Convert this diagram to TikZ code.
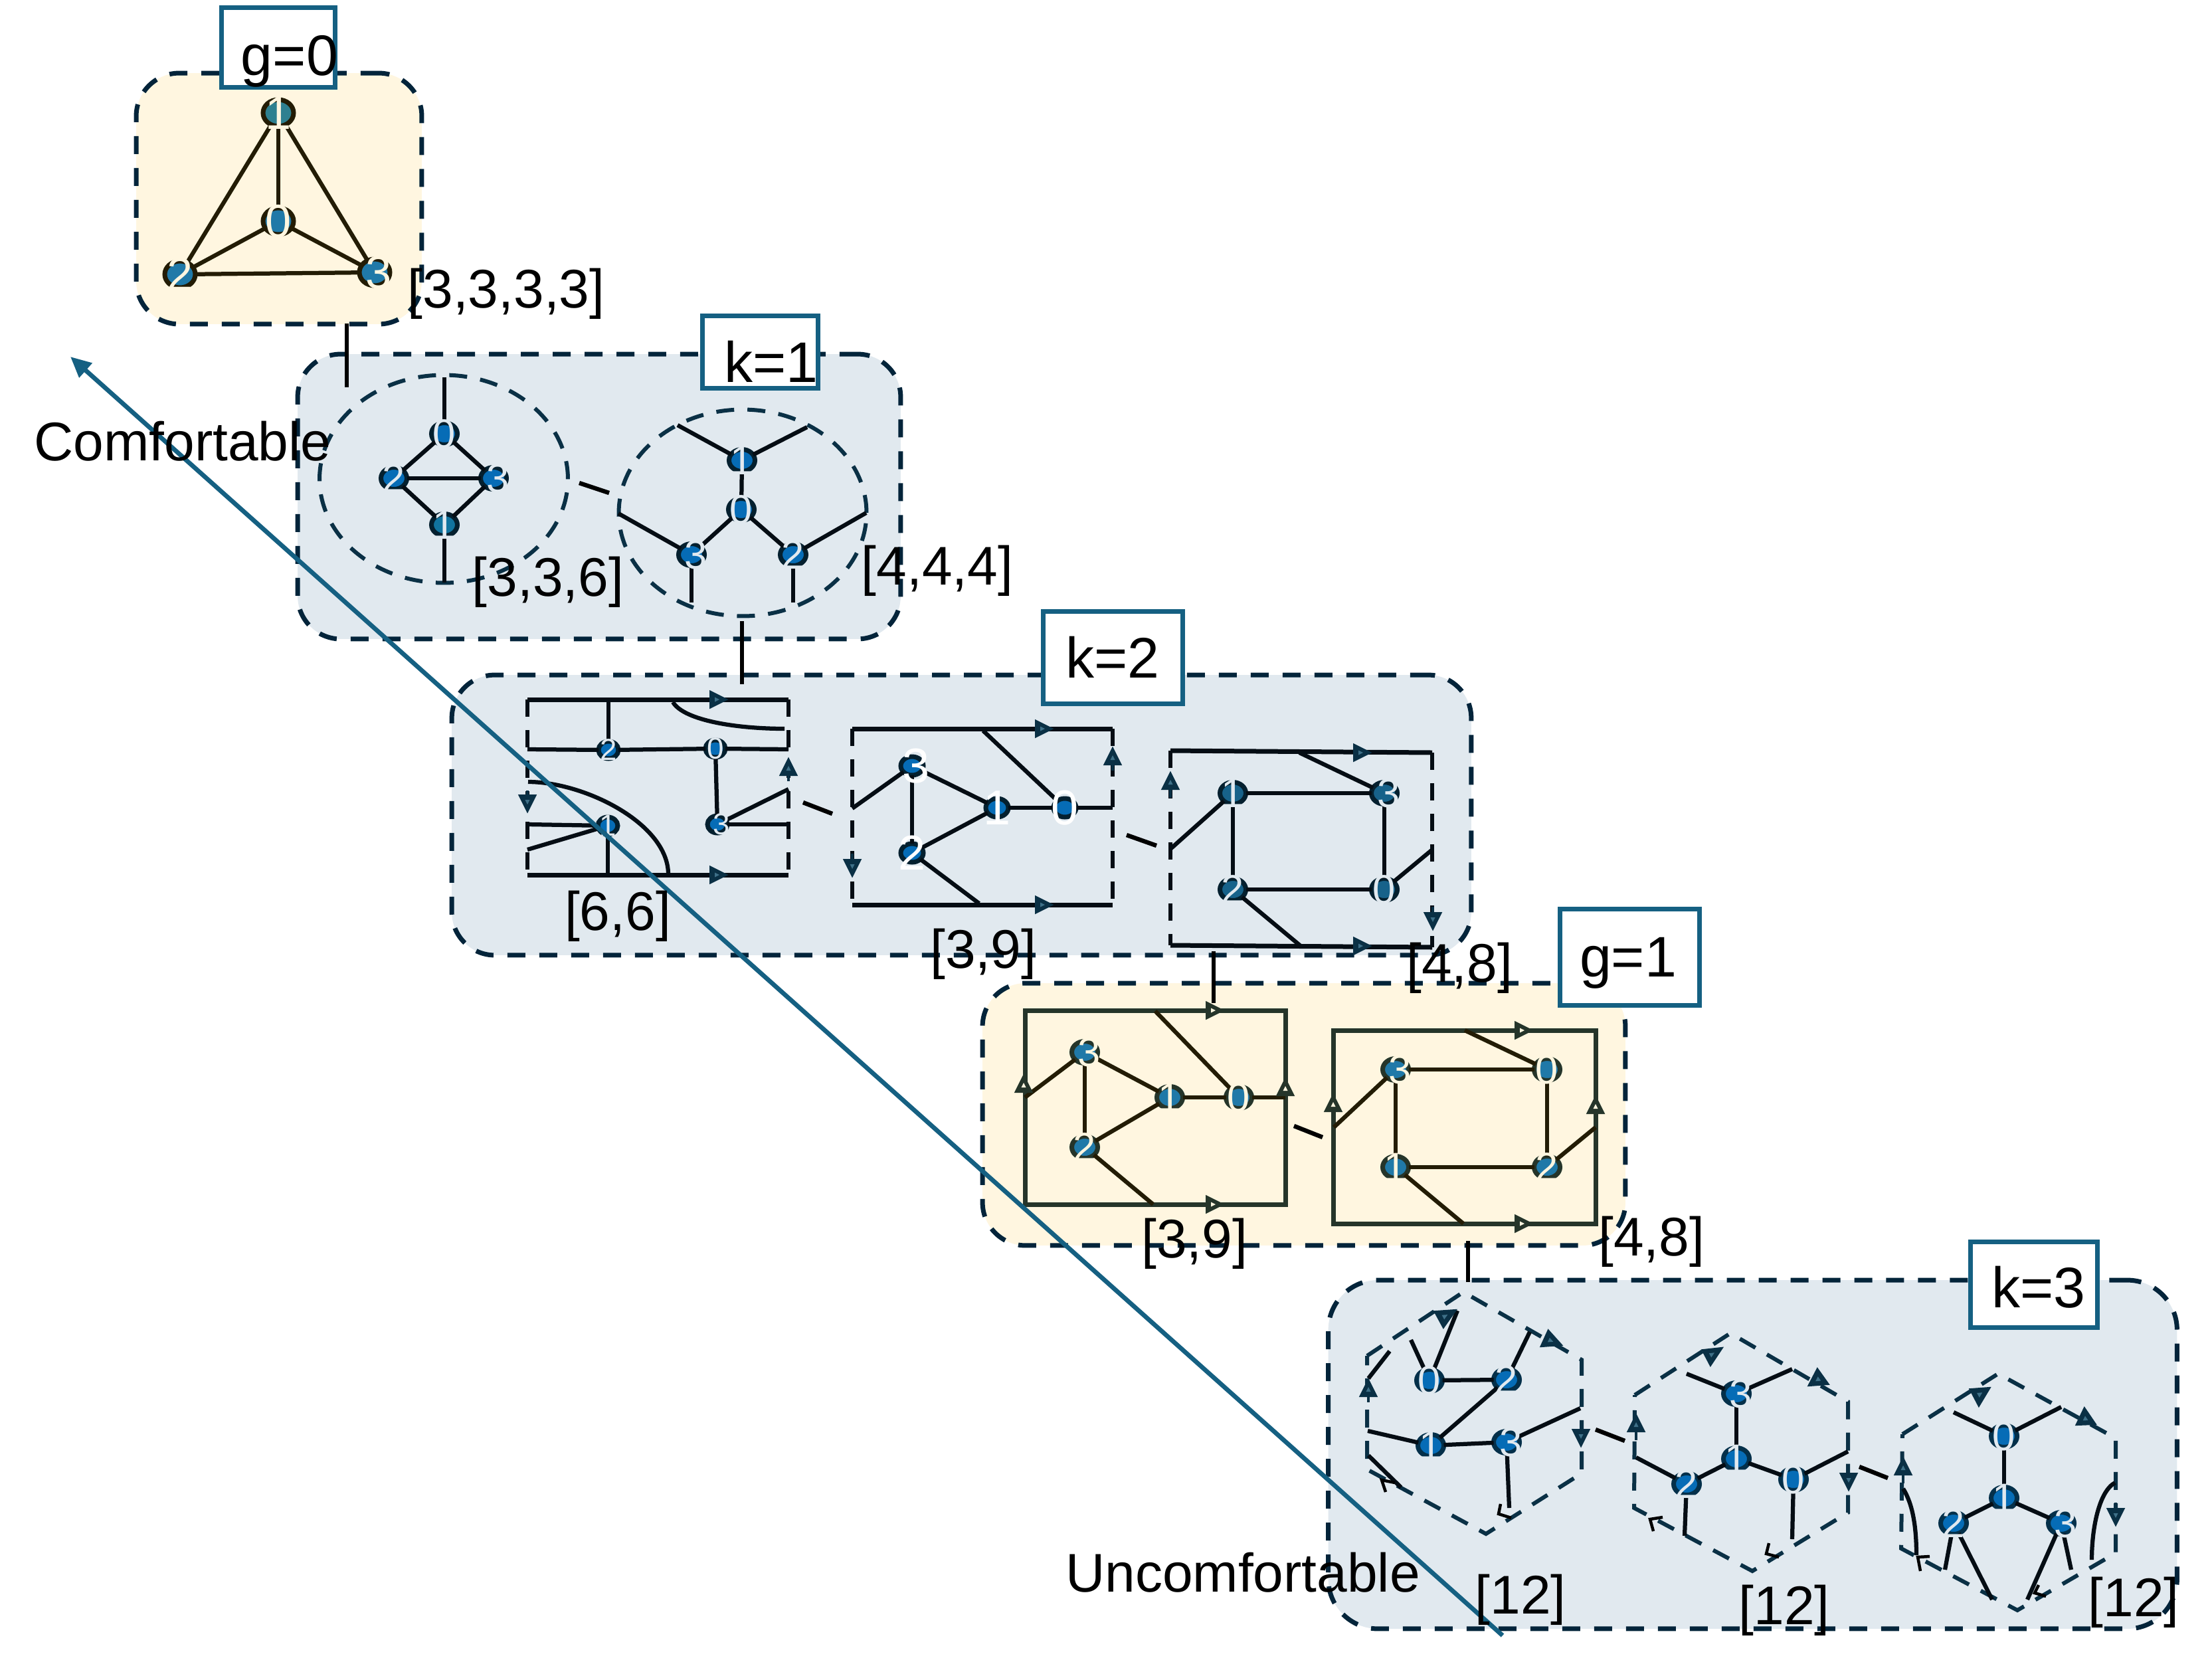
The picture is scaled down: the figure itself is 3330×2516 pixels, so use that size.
\documentclass[tikz,border=0pt]{standalone}
\usepackage{fontspec}
\setmainfont{Liberation Sans}
\usetikzlibrary{shapes.geometric,arrows.meta}
\definecolor{panelblue}{HTML}{E1E9EF}
\definecolor{panelcream}{HTML}{FFF6E0}
\definecolor{dashcol}{HTML}{03243A}
\definecolor{boxcol}{HTML}{156082}
\definecolor{hexcol}{HTML}{0A3045}
\definecolor{framecol}{HTML}{25352A}
\definecolor{tipcore}{HTML}{3E7088}
\colorlet{edgec}{black}
\colorlet{ringc}{black}
\colorlet{fillc}{blue}
\colorlet{framec}{black}
\colorlet{digc}{white}
\newcommand\fontpx[1]{\fontsize{#1}{#1}\selectfont}
\newcounter{stc}
\def\dlist{}
\newcommand\gn[5][]{\node[gnode,#1] (#2) at (#3,#4) {};%
  \expandafter\def\expandafter\dlist\expandafter{\dlist\node[digit,#1,fill=none,xshift={ifthenelse(#5==3,3.5,0)}] (#2d) at (#2) {#5};}}
\newcommand\edgeline[2]{\draw[edgest] (#1) -- (#2);}
\newcommand\stubline[3]{\stepcounter{stc}\coordinate (s\thestc) at (#2,#3);\draw[edgest] (#1) -- (s\thestc);}
\newcommand\linkline[4]{\stepcounter{stc}\coordinate (la\thestc) at (#1,#2);\coordinate (lb\thestc) at (#3,#4);\draw[linkst] (la\thestc) -- (lb\thestc);}
\newcommand\tri[4]{\begin{scope}[shift={(#1,#2)},rotate=#3]
  \draw[tipst] (-10,0) -- ({-10-#4},0);
  \draw[tipst,fill=hexcol] (12,0) -- (-10,-11) -- (-10,11) -- cycle;
  \fill[tipcore] (3,0) -- (-4,-3.5) -- (-4,3.5) -- cycle;
\end{scope}}
\newcommand\tripts[6]{\draw[tipst,fill=hexcol] (#1,#2) -- (#3,#4) -- (#5,#6) -- cycle;
  \pgfmathsetmacro\cxx{(#1+#3+#5)/3}\pgfmathsetmacro\cyy{(#2+#4+#6)/3}
  \begin{scope}[shift={(\cxx,\cyy)},scale=.3,shift={(-\cxx,-\cyy)}]\fill[tipcore] (#1,#2) -- (#3,#4) -- (#5,#6) -- cycle;\end{scope}}
\newcommand\chev[6]{\draw[chevst] (#1,#2) -- (#3,#4) -- (#5,#6);}
\tikzset{
  panelbase/.style={rectangle,draw=dashcol,line width=.14cm,dash pattern=on .54cm off .42cm,inner sep=0,outer sep=0,rounded corners=1.3cm},
  pblue/.style={panelbase,fill=panelblue},
  pcream/.style={panelbase,fill=panelcream},
  tagbox/.style={rectangle,draw=boxcol,fill=white,line width=.14cm,inner sep=0,outer sep=0},
  lab/.style={font=\fontpx{46.7},text=black,inner sep=0,anchor=base},
  taglab/.style={font=\fontpx{49},text=black,inner sep=0,anchor=base},
  gnode/.style={ellipse,draw=ringc,fill=fillc,line width=.14cm,inner sep=0,outer sep=0,minimum width=.78cm,minimum height=.66cm},
  digit/.style={font=\fontpx{35},text=digc,inner sep=0,outer sep=0},
  n0/.style={minimum width=.92cm,minimum height=.8cm,font=\fontpx{40}},
  n6/.style={minimum width=.6cm,minimum height=.52cm,font=\fontpx{26}},
  n9/.style={minimum width=.68cm,minimum height=.56cm,font=\fontpx{42},text=white},
  tl/.style={fill=tealc},
  edgest/.style={draw=edgec,line width=.125cm,line cap=butt},
  linkst/.style={draw=black,line width=.13cm},
  framesolid/.style={draw=framec,line width=.14cm},
  framedash/.style={draw=framec,line width=.13cm,dash pattern=on .52cm off .4cm},
  hexst/.style={draw=hexcol,line width=.12cm,dash pattern=on .54cm off .4cm,line join=miter},
  bigring/.style={ellipse,draw=hexcol,line width=.12cm,dash pattern=on .54cm off .4cm,inner sep=0,outer sep=0},
  tipst/.style={draw=hexcol,line width=.08cm,line join=miter},
  chevst/.style={draw=black,line width=.09cm},
  diag/.style={draw=boxcol,line width=.135cm,-{Triangle[length=.62cm,width=.56cm]}}
}
\begin{document}
\begin{tikzpicture}[x=0.02cm,y=-0.02cm]
\useasboundingbox (0,0) rectangle (3330,2516);
\fill[white] (0,0) rectangle (3330,2516);
% panels
\node[pcream,minimum width=8.6cm,minimum height=7.56cm] (pg0) at (420,299) {};
\node[pblue,minimum width=18.16cm,minimum height=8.58cm] (pk1) at (902,747.5) {};
\node[pblue,minimum width=30.7cm,minimum height=8.44cm] (pk2) at (1447.5,1227) {};
\node[pcream,minimum width=19.36cm,minimum height=7.9cm] (pg1) at (1963,1677.5) {};
\node[pblue,minimum width=25.56cm,minimum height=10.5cm,rounded corners=1.5cm] (pk3) at (2638.5,2189.5) {};
% links between panels
\linkline{522}{487}{522}{583}
\linkline{1117}{935}{1117}{1030}
\linkline{1827}{1432}{1827}{1510}
\linkline{2210}{1868}{2210}{1930}
\linkline{872}{727}{917}{742}
\linkline{1209}{1208}{1253}{1225}
\linkline{1696}{1257}{1741}{1273}
\linkline{1948}{1695}{1991}{1712}
\linkline{2402}{2152}{2446}{2169}
\linkline{2799}{2208}{2842}{2225}
% g=0
\begin{scope}
\def\dlist{}
\definecolor{edgec}{HTML}{231C05}\definecolor{ringc}{HTML}{231C05}\definecolor{fillc}{HTML}{2079A8}
\definecolor{tealc}{HTML}{2E8090}\colorlet{digc}{panelcream}
\gn[n0,tl]{a1}{419}{170}{1}
\gn[n0]{a0}{419}{333}{0}
\gn[n0]{a2}{271}{413}{2}
\gn[n0]{a3}{564}{410}{3}
\edgeline{a1}{a0}\edgeline{a1}{a2}\edgeline{a1}{a3}\edgeline{a0}{a2}\edgeline{a0}{a3}\edgeline{a2}{a3}
\dlist
\end{scope}
% k=1
\begin{scope}
\def\dlist{}
\definecolor{edgec}{HTML}{050D14}\definecolor{ringc}{HTML}{04202F}\definecolor{fillc}{HTML}{066CB6}
\definecolor{tealc}{HTML}{11749F}\colorlet{digc}{panelblue}
\node[bigring,minimum width=7.48cm,minimum height=6.26cm] (r1) at (668,721) {};
\node[bigring,minimum width=7.46cm,minimum height=6.22cm] (r2) at (1118,772) {};
\gn{b0}{669}{653}{0}
\gn{b2}{593}{720}{2}
\gn{b3}{743}{720}{3}
\gn[tl]{b1}{669}{790}{1}
\edgeline{b0}{b2}\edgeline{b0}{b3}\edgeline{b2}{b3}\edgeline{b1}{b2}\edgeline{b1}{b3}
\stubline{b0}{669}{568}\stubline{b1}{669}{877}
\gn{c1}{1117}{693}{1}
\gn{c0}{1116}{767}{0}
\gn{c3}{1041}{835}{3}
\gn{c2}{1194}{835}{2}
\edgeline{c1}{c0}\edgeline{c0}{c3}\edgeline{c0}{c2}
\stubline{c1}{1020}{640}\stubline{c1}{1215}{643}\stubline{c3}{931}{773}\stubline{c2}{1304}{772}\stubline{c3}{1041}{907}\stubline{c2}{1194}{907}
\dlist
\end{scope}
% k=2
\begin{scope}
\def\dlist{}
\definecolor{edgec}{HTML}{050D14}\definecolor{ringc}{HTML}{04202F}\definecolor{fillc}{HTML}{066CB6}\definecolor{framec}{HTML}{050D14}
\colorlet{digc}{panelblue}
% [6,6]
\coordinate (f1a) at (794,1053);\coordinate (f1b) at (1187,1053);\coordinate (f1c) at (1187,1317);\coordinate (f1d) at (794,1317);
\draw[framesolid] (f1a) -- (f1b);\draw[framesolid] (f1d) -- (f1c);
\draw[framedash] (f1a) -- (f1d);\draw[framedash] (f1b) -- (f1c);
\gn[n6]{d2}{916}{1129}{2}
\gn[n6]{d0}{1077}{1127}{0}
\gn[n6]{d3}{1080}{1241}{3}
\gn[n6]{d1}{915}{1243}{1}
\edgeline{d2}{d0}\edgeline{d0}{d3}
\stubline{d2}{794}{1128}\stubline{d0}{1187}{1128}\stubline{d2}{916}{1053}
\stubline{d3}{1187}{1188}\stubline{d3}{1186}{1241}
\stubline{d1}{794}{1241}\stubline{d1}{794}{1279}\stubline{d1}{915}{1317}
\coordinate (e1a) at (1013,1057);\coordinate (e1b) at (1181,1097);\coordinate (e2a) at (795,1177);\coordinate (e2b) at (1006,1316);
\draw[edgest] (e1a) .. controls (1030,1085) and (1110,1097) .. (e1b);
\draw[edgest] (e2a) .. controls (880,1177) and (1006,1240) .. (e2b);
\tri{1080}{1053}{0}{0}\tri{1080}{1317}{0}{0}\tri{794}{1208}{-90}{8}\tri{1187}{1156}{90}{10}
% [3,9]
\coordinate (f2a) at (1283,1097);\coordinate (f2b) at (1675,1097);\coordinate (f2c) at (1675,1362);\coordinate (f2d) at (1283,1362);
\draw[framesolid] (f2a) -- (f2b);\draw[framesolid] (f2d) -- (f2c);
\draw[framedash] (f2a) -- (f2d);\draw[framedash] (f2b) -- (f2c);
\gn[n9]{e3}{1373}{1153}{3}
\gn[n9]{e1}{1501}{1216}{1}
\gn[n9]{e0}{1603}{1216}{0}
\gn[n9]{e2}{1373}{1284}{2}
\edgeline{e3}{e1}\edgeline{e3}{e2}\edgeline{e1}{e2}\edgeline{e1}{e0}
\stubline{e3}{1283}{1217}\stubline{e0}{1675}{1216}\stubline{e0}{1480}{1100}\stubline{e2}{1474}{1360}
\tri{1570}{1097}{0}{0}\tri{1570}{1362}{0}{0}\tri{1283}{1305}{-90}{10}\tri{1675}{1140}{90}{10}
% [4,8]
\coordinate (f3a) at (1762,1130);\coordinate (f3b) at (2156,1133);\coordinate (f3c) at (2156,1426);\coordinate (f3d) at (1762,1423);
\draw[framesolid] (f3a) -- (f3b);\draw[framesolid] (f3d) -- (f3c);
\draw[framedash] (f3a) -- (f3d);\draw[framedash] (f3b) -- (f3c);
\definecolor{fillc}{HTML}{17628A}
\gn{g1}{1856}{1194}{1}
\gn{g3}{2084}{1194}{3}
\gn{g2}{1856}{1339}{2}
\gn{g0}{2084}{1339}{0}
\edgeline{g1}{g3}\edgeline{g1}{g2}\edgeline{g3}{g0}\edgeline{g2}{g0}
\stubline{g3}{1956}{1133}\stubline{g2}{1958}{1424}\stubline{g1}{1762}{1278}\stubline{g0}{2155}{1280}
\tri{2049}{1133}{0}{0}\tri{2049}{1424}{0}{0}\tri{1762}{1177}{90}{14}\tri{2157}{1385}{-90}{10}
\dlist
\end{scope}
% g=1
\begin{scope}
\def\dlist{}
\definecolor{edgec}{HTML}{231C05}\definecolor{ringc}{HTML}{25352A}\definecolor{fillc}{HTML}{2079A8}\definecolor{framec}{HTML}{25352A}
\colorlet{digc}{panelcream}
\coordinate (h1a) at (1543,1521);\coordinate (h1c) at (1935,1813);
\draw[framesolid] (h1a) rectangle (h1c);
\gn{h3}{1633}{1584}{3}
\gn{h1}{1761}{1652}{1}
\gn{h0}{1865}{1652}{0}
\gn{h2}{1633}{1727}{2}
\edgeline{h3}{h1}\edgeline{h3}{h2}\edgeline{h1}{h2}\edgeline{h1}{h0}
\stubline{h3}{1543}{1652}\stubline{h0}{1935}{1652}\stubline{h0}{1739}{1522}\stubline{h2}{1736}{1813}
\coordinate (i1a) at (2007,1551);\coordinate (i1c) at (2402,1842);
\draw[framesolid] (i1a) rectangle (i1c);
\gn{i3}{2101}{1610}{3}
\gn{i0}{2329}{1610}{0}
\gn{i1}{2101}{1757}{1}
\gn{i2}{2329}{1757}{2}
\edgeline{i3}{i0}\edgeline{i3}{i1}\edgeline{i0}{i2}\edgeline{i1}{i2}
\stubline{i0}{2205}{1551}\stubline{i1}{2203}{1842}\stubline{i3}{2008}{1697}\stubline{i2}{2402}{1697}
\colorlet{hexcol}{framecol}
\colorlet{tipcore}{panelcream}
\tri{1827}{1521}{0}{0}\tri{1827}{1813}{0}{0}\tri{1541}{1633}{90}{0}\tri{1935}{1638}{90}{0}
\tri{2292}{1551}{0}{0}\tri{2292}{1842}{0}{0}\tri{2007}{1662}{90}{0}\tri{2402}{1665}{90}{0}
\dlist
\end{scope}
% k=3
\begin{scope}
\def\dlist{}
\definecolor{edgec}{HTML}{050D14}\definecolor{ringc}{HTML}{04304A}\definecolor{fillc}{HTML}{066CB6}
\colorlet{digc}{panelblue}
% hex 1
\draw[hexst] (2058,2041) -- (2203,1945) -- (2381,2047) -- (2381,2218) -- (2237,2309) -- (2058,2212) -- cycle;
\gn{j0}{2152}{2078}{0}
\gn{j2}{2268}{2077}{2}
\gn{j1}{2154}{2176}{1}
\gn{j3}{2268}{2171}{3}
\edgeline{j0}{j2}\edgeline{j1}{j3}\edgeline{j1}{j2}
\stubline{j0}{2194}{1973}\stubline{j0}{2124}{2017}\stubline{j2}{2303}{2005}\stubline{j1}{2059}{2154}\stubline{j3}{2379}{2120}\stubline{j3}{2272}{2270}
\coordinate (j4) at (2092,2034);\coordinate (j5) at (2060,2075);\coordinate (j6) at (2060,2191);\coordinate (j7) at (2109,2239);
\draw[edgest] (j4) -- (j5);\draw[edgest] (j6) -- (j7);
\tri{2060}{2091}{90}{10}\tri{2380}{2163}{-90}{10}
\tripts{2161}{1975}{2190}{1973}{2173}{1997}
\tripts{2331}{2004}{2321}{2026}{2349}{2024}
\chev{2086}{2246}{2080}{2228}{2100}{2232}
\chev{2259}{2264}{2256}{2279}{2275}{2285}
% hex 2
\draw[hexst] (2461,2100) -- (2605,2007) -- (2782,2110) -- (2782,2277) -- (2638,2365) -- (2460,2270) -- cycle;
\gn{k3}{2614}{2098}{3}
\gn{k1}{2614}{2196}{1}
\gn{k2}{2539}{2234}{2}
\gn{k0}{2700}{2227}{0}
\edgeline{k3}{k1}\edgeline{k1}{k2}\edgeline{k1}{k0}
\stubline{k3}{2539}{2068}\stubline{k3}{2698}{2061}\stubline{k2}{2463}{2194}\stubline{k0}{2782}{2185}\stubline{k2}{2536}{2312}\stubline{k0}{2698}{2317}
\tri{2463}{2144}{90}{14}\tri{2783}{2229}{-90}{10}
\tripts{2564}{2033}{2591}{2030}{2575}{2054}
\tripts{2736}{2062}{2724}{2085}{2751}{2083}
\chev{2489}{2305}{2484}{2287}{2503}{2284}
\chev{2663}{2323}{2659}{2339}{2678}{2344}
% hex 3
\draw[hexst] (2864,2159) -- (3008,2068) -- (3185,2165) -- (3185,2338) -- (3037,2424) -- (2862,2331) -- cycle;
\gn{m0}{3017}{2162}{0}
\gn{m1}{3017}{2255}{1}
\gn{m2}{2941}{2293}{2}
\gn{m3}{3103}{2293}{3}
\edgeline{m0}{m1}\edgeline{m1}{m2}\edgeline{m1}{m3}
\stubline{m0}{2941}{2126}\stubline{m0}{3103}{2118}
\stubline{m2}{2928}{2363}\stubline{m2}{2999}{2408}\stubline{m3}{3052}{2408}\stubline{m3}{3118}{2363}
\coordinate (m4) at (2865,2241);\coordinate (m5) at (2885,2341);\coordinate (m6) at (3184,2232);\coordinate (m7) at (3149,2348);
\draw[edgest] (m4) .. controls (2880,2265) and (2885,2300) .. (m5);
\draw[edgest] (m6) .. controls (3160,2245) and (3149,2300) .. (m7);
\tri{2865}{2209}{90}{14}\tri{3185}{2282}{-90}{10}
\tripts{2967}{2092}{2994}{2090}{2979}{2115}
\tripts{3138}{2121}{3127}{2144}{3153}{2143}
\chev{2891}{2365}{2887}{2344}{2905}{2343}
\chev{3069}{2386}{3063}{2398}{3080}{2403}
\dlist
\end{scope}
% tag boxes
\node[tagbox,minimum width=3.44cm,minimum height=2.4cm] (tg0) at (419,71.5) {};
\node[tagbox,minimum width=3.48cm,minimum height=2.18cm] (tk1) at (1144.5,530) {};
\node[tagbox,minimum width=4.2cm,minimum height=2.78cm] (tk2) at (1675,990) {};
\node[tagbox,minimum width=4.2cm,minimum height=2.9cm] (tg1) at (2453.5,1441) {};
\node[tagbox,minimum width=3.82cm,minimum height=2.58cm] (tk3) at (3061.5,1934) {};
% diagonal
\coordinate (dg1) at (2262,2462);\coordinate (dg2) at (106,537);
\draw[diag] (dg1) -- (dg2);
% texts
\node[taglab] (t1) at (436,113) {g=0};
\node[taglab] (t2) at (1161,575) {k=1};
\node[taglab] (t3) at (1675,1020) {k=2};
\node[taglab] (t4) at (2451,1470) {g=1};
\node[taglab] (t5) at (3069,1968) {k=3};
\node[lab] (t6) at (762,463) {[3,3,3,3]};
\node[lab] (t7) at (825,897) {[3,3,6]};
\node[lab] (t8) at (1411,880) {[4,4,4]};
\node[lab] (t9) at (930,1400) {[6,6]};
\node[lab] (t10) at (1480,1457) {[3,9]};
\node[lab] (t11) at (2197,1478) {[4,8]};
\node[lab] (t12) at (1798,1893) {[3,9]};
\node[lab] (t13) at (2486,1890) {[4,8]};
\node[lab] (t14) at (2289,2429) {[12]};
\node[lab] (t15) at (2686,2445) {[12]};
\node[lab] (t16) at (3212,2433) {[12]};
\node[lab] (t17) at (275,693) {Comfortable};
\node[lab] (t18) at (1871,2396) {Uncomfortable};
\end{tikzpicture}
\end{document}
